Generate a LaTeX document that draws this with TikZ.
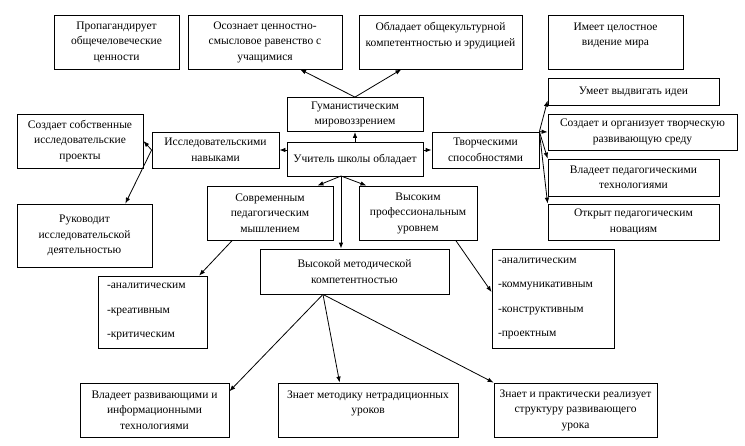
\documentclass[tikz,border=0pt]{standalone}
\usepackage{fontspec}
\setmainfont{Liberation Serif}
\usepackage{tikz}
\usetikzlibrary{arrows.meta,calc,positioning}

\begin{document}
\begin{tikzpicture}[
  x=1pt,y=-1pt,
  font=\fontsize{11.5}{15.5}\selectfont,
  box/.style={draw,line width=0.8pt,align=center,inner sep=0pt},
  listbox/.style={box,align=left,font=\fontsize{11.5}{24.5}\selectfont},
  arr/.style={-{Latex[length=6pt,width=4.5pt]},line width=0.8pt}
]
\useasboundingbox (0,0) rectangle (745,445);

% top row
\node[box,minimum width=125,minimum height=54] (prop) at (116.5,42)
  {Пропагандирует\\общечеловеческие\\ценности};
\node[box,minimum width=154,minimum height=54] (osozn) at (265,42)
  {Осознает ценностно-\\смысловое равенство с\\учащимися};
\node[box,minimum width=163,minimum height=54] (oblad) at (440.5,42)
  {Обладает общекультурной\\компетентностью и эрудицией\\\mbox{}};
\node[box,minimum width=135,minimum height=54] (imeet) at (615.5,42)
  {Имеет целостное\\видение мира\\\mbox{}};

% centre
\node[box,minimum width=136,minimum height=34] (gum) at (355,114.5)
  {Гуманистическим\\мировоззрением};
\node[box,minimum width=136,minimum height=34] (uchitel) at (355,159)
  {Учитель школы обладает};
\node[box,minimum width=127,minimum height=36] (issled) at (215.5,150)
  {Исследовательскими\\навыками};
\node[box,minimum width=107,minimum height=36] (tvorch) at (485.5,150)
  {Творческими\\способностями};

% left column
\node[box,minimum width=126,minimum height=54] (sozdproj) at (80,141)
  {Создает собственные\\исследовательские\\проекты};
\node[box,minimum width=135,minimum height=63] (rukov) at (84.5,235.5)
  {Руководит\\исследовательской\\деятельностью};

% right column
\node[box,minimum width=171,minimum height=27] (umeet) at (633.5,91.5)
  {Умеет выдвигать идеи};
\node[box,minimum width=189,minimum height=36] (sreda) at (642.5,132)
  {Создает и организует творческую\\развивающую среду};
\node[box,minimum width=171,minimum height=37] (vladped) at (633.5,177.5)
  {Владеет педагогическими\\технологиями};
\node[box,minimum width=171,minimum height=36] (otkryt) at (633.5,222)
  {Открыт педагогическим\\новациям};

% middle row
\node[box,minimum width=126,minimum height=54] (sovr) at (270,213)
  {Современным\\педагогическим\\мышлением};
\node[box,minimum width=118,minimum height=54] (vysprof) at (418,213)
  {Высоким\\профессиональным\\уровнем};
\node[box,minimum width=189,minimum height=45] (metod) at (354.5,271.5)
  {Высокой методической\\компетентностью};

\node[listbox,inner xsep=9pt,text width=91,minimum height=72] (listl) at (152.5,312)
  {-аналитическим\\-креативным\\-критическим};
\node[listbox,inner xsep=6pt,text width=110,minimum height=99] (listr) at (553,298.5)
  {-аналитическим\\-коммуникативным\\-конструктивным\\-проектным};

% bottom row
\node[box,minimum width=149,minimum height=54] (razv) at (154.5,410)
  {Владеет развивающими и\\информационными\\технологиями};
\node[box,minimum width=180,minimum height=54] (metodiku) at (368,410)
  {Знает методику нетрадиционных\\уроков\\\mbox{}};
\node[box,minimum width=163,minimum height=54] (struct) at (575.5,410)
  {Знает и практически реализует\\структуру развивающего\\урока};

\coordinate (ufork) at (341,176);
\coordinate (mfork) at (metod.-144);

\draw[arr] (gum.north)--(osozn.-38);
\draw[arr] (gum.north)--(oblad.-145);
\draw[arr] (uchitel.north)--(gum.south);
\draw[arr] (issled.east -| uchitel.west)--(issled.east);
\draw[arr] (tvorch.west -| uchitel.east)--(tvorch.west);

\draw[arr] (issled.west)--(sozdproj.east);
\draw[arr] (issled.west)--(rukov.38);

\draw[arr] (tvorch.north east)--(umeet.186);
\draw[arr] (tvorch.north east)--(sreda.west);
\draw[arr] (tvorch.north east)--(vladped.north west);
\draw[arr] (tvorch.north east)--(otkryt.north west);

\draw[arr] (ufork)--(sovr.30);
\draw[arr] (ufork)--(vysprof.152);
\draw[arr] (ufork)--(ufork |- metod.north);

\draw[arr] (sovr.-144)--(listl.38);
\draw[arr] (vysprof.-36)--(listr.174);

\draw[arr] (mfork)--(razv.14);
\draw[arr] (mfork)--(metodiku.136);
\draw[arr] (mfork)--(struct.north west);
\end{tikzpicture}
\end{document}
